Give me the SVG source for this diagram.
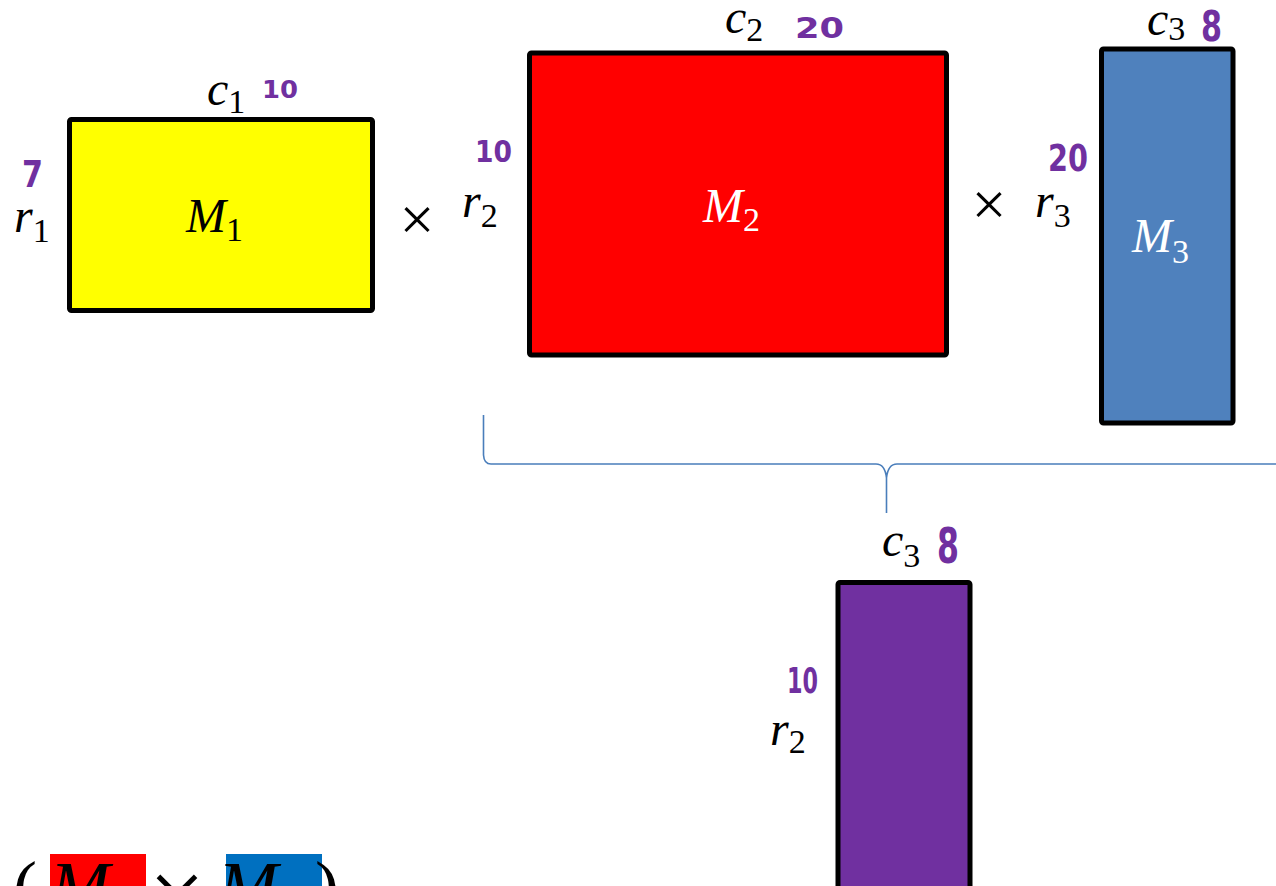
<svg xmlns="http://www.w3.org/2000/svg" width="1276" height="886" viewBox="0 0 1276 886">
<style>
.box{stroke:#000;stroke-width:5;stroke-linejoin:round}
.v{font-family:"Liberation Serif","DejaVu Serif",serif;font-style:italic;font-size:48px;fill:#000}
.s{font-style:normal;font-size:34px}
.w{fill:#fff}
.h{font-family:"DejaVu Sans","Liberation Sans",sans-serif;font-weight:bold;fill:#7030A0}
.x{font-family:"Liberation Serif","DejaVu Serif",serif;font-size:62px;fill:#000;text-anchor:middle}
.brace{fill:none;stroke:#4A7EBB;stroke-width:1.6}
.f{font-family:"Liberation Serif","DejaVu Serif",serif;font-size:72px;fill:#000}
</style>
<rect width="1276" height="886" fill="#fff"/>

<g id="m1">
<rect class="box" x="69.5" y="119.5" width="303" height="191" rx="2" fill="#FFFF00"/>
<text class="v" x="186" y="232">M<tspan class="s" dy="9">1</tspan></text>
<text class="v" x="207" y="105">c<tspan class="s" dy="8">1</tspan></text>
<text class="v" x="14" y="232">r<tspan class="s" dy="10">1</tspan></text>
<text class="h" x="262" y="98" font-size="25" textLength="36" lengthAdjust="spacingAndGlyphs">10</text>
<text class="h" x="22" y="187" font-size="37" textLength="21" lengthAdjust="spacingAndGlyphs">7</text>
</g>

<text class="x" x="417" y="240">×</text>

<g id="m2">
<rect class="box" x="529.5" y="53" width="417" height="302" rx="2" fill="#FF0000"/>
<text class="v w" x="703" y="222">M<tspan class="s w" dy="9">2</tspan></text>
<text class="v" x="725" y="33">c<tspan class="s" dy="8">2</tspan></text>
<text class="v" x="462" y="217">r<tspan class="s" dy="10">2</tspan></text>
<text class="h" x="475" y="162" font-size="30" textLength="37" lengthAdjust="spacingAndGlyphs">10</text>
<text class="h" x="795" y="38" font-size="29" textLength="49" lengthAdjust="spacingAndGlyphs">20</text>
</g>

<text class="x" x="989" y="225">×</text>

<g id="m3">
<rect class="box" x="1101.5" y="49" width="131.5" height="374" rx="2" fill="#4F81BD"/>
<text class="v w" x="1132" y="252">M<tspan class="s w" dy="11">3</tspan></text>
<text class="v" x="1147" y="35">c<tspan class="s" dy="5">3</tspan></text>
<text class="v" x="1035" y="217">r<tspan class="s" dy="10">3</tspan></text>
<text class="h" x="1048" y="171" font-size="37" textLength="40" lengthAdjust="spacingAndGlyphs">20</text>
<text class="h" x="1201" y="41" font-size="43" textLength="21" lengthAdjust="spacingAndGlyphs">8</text>
</g>

<g id="connectors">
<path class="brace" d="M483.5,415 L483.5,455 Q484,464 491,464 L876,464 Q885,464 886.5,478 L886.5,513 M886.5,478 Q888,464 897,464 L1276,464"/>
</g>

<g id="m23">
<rect class="box" x="838" y="582.5" width="132" height="320" rx="2" fill="#7030A0"/>
<text class="v" x="882" y="556">c<tspan class="s" dy="11">3</tspan></text>
<text class="v" x="770" y="745">r<tspan class="s" dy="8">2</tspan></text>
<text class="h" x="937" y="563" font-size="49" textLength="22" lengthAdjust="spacingAndGlyphs">8</text>
<text class="h" x="787" y="693" font-size="35" textLength="31" lengthAdjust="spacingAndGlyphs">10</text>
</g>

<g id="formula">
<rect x="50" y="854" width="96" height="40" fill="#FF0000"/>
<rect x="226" y="854" width="96" height="40" fill="#0070C0"/>
<text class="f" x="13" y="911">(</text>
<text class="f" x="50" y="911" font-style="italic">M</text>
<text class="f" x="177" y="928" style="font-size:100px" text-anchor="middle">×</text>
<text class="f" x="218" y="911" font-style="italic">M</text>
<text class="f" x="315" y="911">)</text>
</g>
</svg>
